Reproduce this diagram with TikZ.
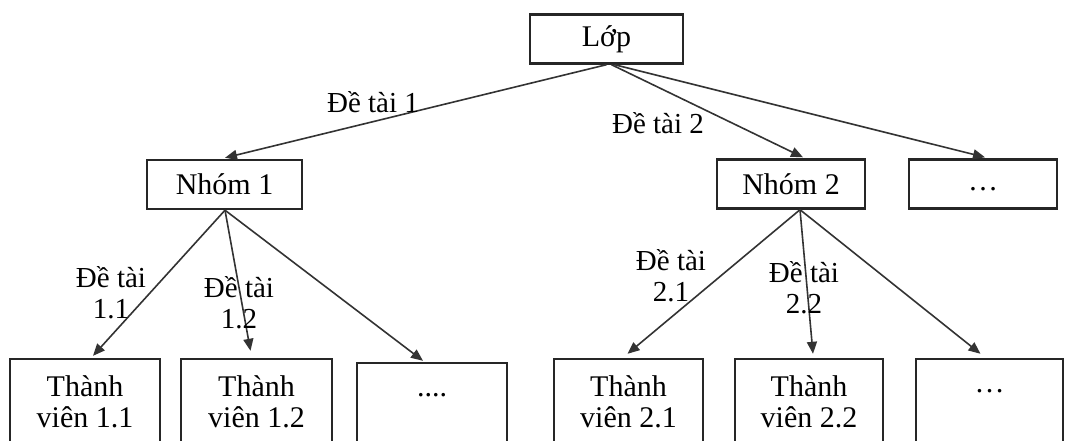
\documentclass[tikz,border=0pt]{standalone}
\usepackage{fontspec}
\setmainfont{Liberation Serif}
\usetikzlibrary{arrows.meta}
\begin{document}
\begin{tikzpicture}[x=1pt,y=-1pt,
  box/.style={draw=black!85, line width=2.4pt, fill=white, inner sep=0pt,
    align=center, font=\fontsize{30}{31}\selectfont},
  topbox/.style={box, minimum height=49pt},
  leafbox/.style={box, minimum height=86pt, minimum width=150pt},
  link/.style={draw=black!80, line width=1.6pt,
    -{Triangle[length=12pt,width=10pt]}},
  lbl/.style={inner sep=0pt, align=center, font=\fontsize{29}{31}\selectfont}
]
\useasboundingbox (0,0) rectangle (1083,441);
\clip (0,0) rectangle (1083,441);

% class and groups
\node[topbox, minimum width=153pt] (lop) at (606.5,39) {Lớp};
\node[topbox, minimum width=155pt] (g1) at (224.5,184.5) {Nhóm 1};
\node[topbox, minimum width=148pt] (g2) at (791,184) {Nhóm 2};
\node[topbox, minimum width=148pt] (g3) at (983,184) {\strut…};

% members
\node[leafbox] (m11) at (85,402) {Thành\\viên 1.1};
\node[leafbox, minimum width=151pt] (m12) at (256.5,402) {Thành\\viên 1.2};
\node[leafbox] (m13) at (432,406) {\strut....\\\strut};
\node[leafbox, minimum width=149pt] (m21) at (628.5,402) {Thành\\viên 2.1};
\node[leafbox, minimum width=148pt] (m22) at (809,402) {Thành\\viên 2.2};
\node[leafbox, minimum width=147pt] (m23) at (989.5,402) {\strut…\\\strut};

% connectors from the class
\draw[link] ([xshift=0pt]lop.south) -- ([xshift=0.5pt,yshift=1pt]g1.north);
\draw[link] ([xshift=5pt]lop.south) -- ([xshift=12pt,yshift=1pt]g2.north);
\draw[link] ([xshift=8pt]lop.south) -- ([xshift=2pt,yshift=1pt]g3.north);

% connectors from group 1
\draw[link] ([xshift=0.5pt]g1.south) -- ([xshift=8pt,yshift=2pt]m11.north);
\draw[link] ([xshift=0.5pt]g1.south) -- ([xshift=-6pt,yshift=7pt]m12.north);
\draw[link] ([xshift=0.5pt]g1.south) -- ([xshift=-9pt,yshift=1pt]m13.north);

% connectors from group 2
\draw[link] ([xshift=9pt]g2.south) -- ([xshift=-1pt,yshift=4pt]m21.north);
\draw[link] ([xshift=9pt]g2.south) -- ([xshift=4pt,yshift=4pt]m22.north);
\draw[link] ([xshift=9pt]g2.south) -- ([xshift=-9pt,yshift=4pt]m23.north);

% edge labels
\node[lbl] (t1) at (373,102) {Đề tài 1};
\node[lbl] (t2) at (658,123) {Đề tài 2};
\node[lbl] (t11) at (111,293) {Đề tài\\1.1};
\node[lbl] (t12) at (239,303) {Đề tài\\1.2};
\node[lbl] (t21) at (671,276) {Đề tài\\2.1};
\node[lbl] (t22) at (804,288) {Đề tài\\2.2};
\end{tikzpicture}
\end{document}
